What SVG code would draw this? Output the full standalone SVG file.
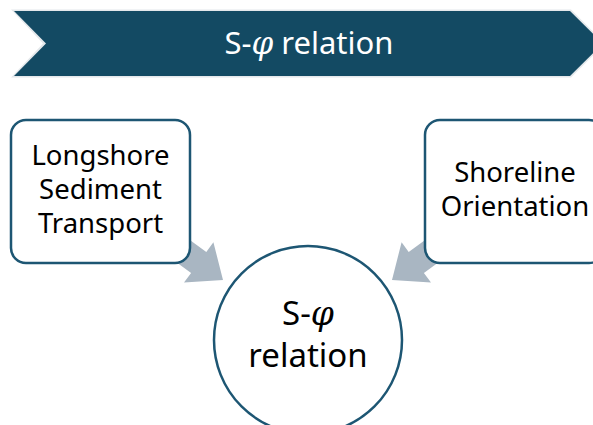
<svg xmlns="http://www.w3.org/2000/svg" width="593" height="425" viewBox="0 0 593 425">
<style>
.box{fill:#ffffff;stroke:#1d5673;stroke-width:2.5}
.lbl{font-family:"Noto Sans","Liberation Sans",sans-serif;fill:#000000;text-anchor:middle}
.phi{font-family:"DejaVu Serif","Liberation Serif",serif;font-style:italic}
.arrow{fill:#a9b6c2}
</style>
<rect width="593" height="425" fill="#ffffff"/>
<g id="banner">
<polygon points="11,9.5 571,9.5 605,43.5 571,77.5 11,77.5 43,43.5" fill="#e4e8eb"/>
<polygon points="14,11 570,11 603,43.5 570,76 14,76 46,43.5" fill="#134a63"/>
<text x="309" y="54" class="lbl" style="fill:#ffffff;font-size:31px">S-<tspan class="phi">φ</tspan> relation</text>
</g>
<g id="connectors">
<polygon class="arrow" points="150.7,243.5 191.1,272.9 184,282.6 223,280 213.4,242.2 206.3,251.9 165.9,222.5"/>
<polygon class="arrow" points="464.3,243.5 423.9,272.9 431,282.6 392,280 401.6,242.2 408.7,251.9 449.1,222.5"/>
</g>
<g id="lst">
<rect x="11" y="120" width="179" height="143" rx="15" class="box"/>
<text class="lbl" style="font-size:27.5px"><tspan x="100.5" y="165">Longshore</tspan><tspan x="100.5" y="199">Sediment</tspan><tspan x="100.5" y="233">Transport</tspan></text>
</g>
<g id="orientation">
<rect x="425" y="120" width="179" height="143" rx="15" class="box"/>
<text class="lbl" style="font-size:27.5px"><tspan x="515" y="182">Shoreline</tspan><tspan x="515" y="216">Orientation</tspan></text>
</g>
<g id="relation">
<circle cx="308" cy="340" r="94" class="box"/>
<text class="lbl" style="font-size:33px"><tspan x="308" y="325">S-<tspan class="phi">φ</tspan></tspan><tspan x="308" y="367">relation</tspan></text>
</g>
</svg>
